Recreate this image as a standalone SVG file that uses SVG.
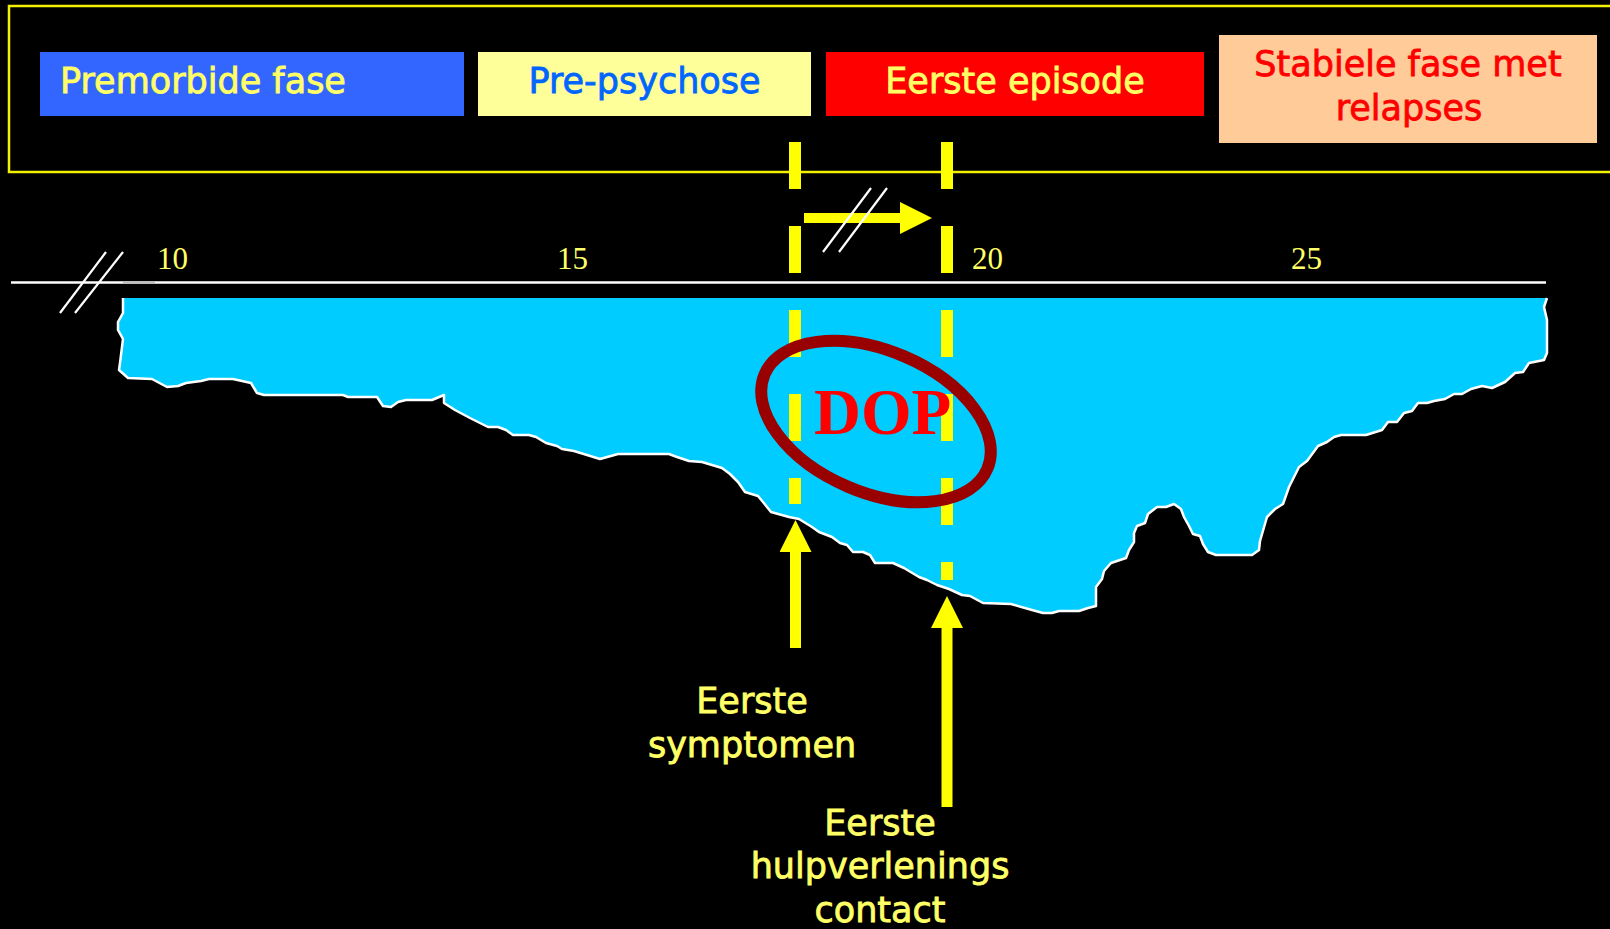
<svg xmlns="http://www.w3.org/2000/svg" width="1610" height="929" viewBox="0 0 1610 929">
  <style>
    .lbl { font-family: "DejaVu Sans", "Verdana", sans-serif; font-size: 35px; stroke-width: 0.8px; }
    .num { font-family: "Liberation Serif", "Times New Roman", serif; font-size: 31px; fill: #FFFF66; }
    .ylw { fill: #FFFF66; stroke: #FFFF66; }
    .blu { fill: #0066FF; stroke: #0066FF; }
    .red { fill: #FF0000; stroke: #FF0000; }
    .dash { stroke: #FFFF00; stroke-width: 12; stroke-dasharray: 47 37; fill: none; }
    .conn { stroke: #FFFF00; fill: none; }
    .slash { stroke: #FFFFFF; stroke-width: 2.2; fill: none; }
  </style>
  <defs>
    <marker id="head" viewBox="0 0 32 32" refX="0" refY="16" markerWidth="32" markerHeight="32" markerUnits="userSpaceOnUse" orient="auto">
      <path d="M0,0 L32,16 L0,32 Z" fill="#FFFF00"/>
    </marker>
  </defs>
  <rect x="0" y="0" width="1610" height="929" fill="#000000"/>

  <g id="header-frame">
    <rect x="9" y="6" width="1640" height="166" fill="none" stroke="#F2F200" stroke-width="2.5"/>
  </g>

  <g id="phase-premorbide">
    <rect x="40" y="52" width="424" height="64" fill="#3366FF"/>
    <text class="lbl ylw" x="60" y="93">Premorbide fase</text>
  </g>
  <g id="phase-prepsychose">
    <rect x="478" y="52" width="333" height="64" fill="#FFFF99"/>
    <text class="lbl blu" x="644.5" y="93" text-anchor="middle">Pre-psychose</text>
  </g>
  <g id="phase-eerste-episode">
    <rect x="826" y="52" width="378" height="64" fill="#FF0000"/>
    <text class="lbl ylw" x="1015" y="93" text-anchor="middle">Eerste episode</text>
  </g>
  <g id="phase-stabiele">
    <rect x="1219" y="35" width="378" height="108" fill="#FFCC99"/>
    <text class="lbl red" x="1408" y="76" text-anchor="middle">Stabiele fase met</text>
    <text class="lbl red" x="1409" y="120" text-anchor="middle">relapses</text>
  </g>

  <g id="timeline">
    <line x1="11" y1="282.5" x2="1546" y2="282.5" stroke="#FFFFFF" stroke-width="2.5"/>
    <line x1="123" y1="282.5" x2="155" y2="282.5" stroke="#BDBDBD" stroke-width="2.5"/>
    <line class="slash" x1="60" y1="313" x2="106" y2="252"/>
    <line class="slash" x1="75" y1="313" x2="123" y2="252"/>
    <text class="num" x="157" y="269">10</text>
    <text class="num" x="557" y="269">15</text>
    <text class="num" x="972" y="269">20</text>
    <text class="num" x="1291" y="269">25</text>
  </g>

  <g id="course">
    <path fill="#00CCFF" d="M123,298 L1547,298 L1544,307 L1547,320 L1547,353 L1544,360 L1529,363 L1523,372 L1515,373 L1505,382 L1492,388 L1482,386 L1471,389 L1462,394 L1454,394 L1445,399 L1434,401 L1427,403 L1418,403 L1412,411 L1404,413 L1397,422 L1388,422 L1382,430 L1366,435 L1341,435 L1334,437 L1327,442 L1318,446 L1307,461 L1299,467 L1289,487 L1283,504 L1275,509 L1267,517 L1260,541 L1259,550 L1252,555 L1216,555 L1208,552 L1203,544 L1200,536 L1193,534 L1189,526 L1184,517 L1181,509 L1174,504 L1166,507 L1157,507 L1148,514 L1145,523 L1137,526 L1134,533 L1134,542 L1129,550 L1126,558 L1111,563 L1104,571 L1102,579 L1096,587 L1096,606 L1088,608 L1079,611 L1059,611 L1052,613 L1043,613 L1032,610 L1011,604 L983,603 L970,596 L962,595 L949,589 L937,585 L927,580 L919,577 L904,568 L893,563 L875,563 L870,555 L863,552 L853,552 L847,545 L840,543 L832,537 L819,532 L812,527 L799,519 L789,517 L771,512 L763,502 L758,496 L745,492 L738,482 L730,474 L722,468 L702,462 L689,461 L677,457 L669,454 L618,454 L600,459 L587,455 L574,451 L562,449 L557,446 L546,443 L536,437 L529,435 L513,435 L506,430 L498,427 L488,427 L480,423 L470,418 L455,410 L444,403 L444,395 L432,400 L406,400 L398,402 L391,407 L383,406 L377,397 L348,397 L343,395 L264,395 L257,393 L251,383 L233,379 L209,379 L201,381 L186,383 L178,386 L167,387 L152,379 L128,378 L119,370 L120,363 L123,339 L118,330 L118,322 L123,313 Z"/>
    <path fill="none" stroke="#FFFFFF" stroke-width="2.5" stroke-linejoin="round" d="M1547,298 L1544,307 L1547,320 L1547,353 L1544,360 L1529,363 L1523,372 L1515,373 L1505,382 L1492,388 L1482,386 L1471,389 L1462,394 L1454,394 L1445,399 L1434,401 L1427,403 L1418,403 L1412,411 L1404,413 L1397,422 L1388,422 L1382,430 L1366,435 L1341,435 L1334,437 L1327,442 L1318,446 L1307,461 L1299,467 L1289,487 L1283,504 L1275,509 L1267,517 L1260,541 L1259,550 L1252,555 L1216,555 L1208,552 L1203,544 L1200,536 L1193,534 L1189,526 L1184,517 L1181,509 L1174,504 L1166,507 L1157,507 L1148,514 L1145,523 L1137,526 L1134,533 L1134,542 L1129,550 L1126,558 L1111,563 L1104,571 L1102,579 L1096,587 L1096,606 L1088,608 L1079,611 L1059,611 L1052,613 L1043,613 L1032,610 L1011,604 L983,603 L970,596 L962,595 L949,589 L937,585 L927,580 L919,577 L904,568 L893,563 L875,563 L870,555 L863,552 L853,552 L847,545 L840,543 L832,537 L819,532 L812,527 L799,519 L789,517 L771,512 L763,502 L758,496 L745,492 L738,482 L730,474 L722,468 L702,462 L689,461 L677,457 L669,454 L618,454 L600,459 L587,455 L574,451 L562,449 L557,446 L546,443 L536,437 L529,435 L513,435 L506,430 L498,427 L488,427 L480,423 L470,418 L455,410 L444,403 L444,395 L432,400 L406,400 L398,402 L391,407 L383,406 L377,397 L348,397 L343,395 L264,395 L257,393 L251,383 L233,379 L209,379 L201,381 L186,383 L178,386 L167,387 L152,379 L128,378 L119,370 L120,363 L123,339 L118,330 L118,322 L123,313 L123,298"/>
  </g>

  <g id="marker-lines">
    <line class="dash" x1="795" y1="142" x2="795" y2="504"/>
    <line class="dash" x1="947" y1="142" x2="947" y2="580"/>
  </g>

  <g id="dop">
    <ellipse cx="876" cy="421.5" rx="121" ry="71" transform="rotate(23 876 421.5)" fill="none" stroke="#990000" stroke-width="12"/>
    <text x="814" y="434" font-family="Liberation Serif, Times New Roman, serif" font-weight="bold" font-size="65" fill="#FF0000">DOP</text>
  </g>

  <g id="connectors">
    <line class="conn" x1="804" y1="218" x2="900" y2="218" stroke-width="10" marker-end="url(#head)"/>
    <line class="slash" x1="823" y1="252" x2="871" y2="188"/>
    <line class="slash" x1="839" y1="252" x2="887" y2="188"/>
    <line class="conn" x1="795.5" y1="648" x2="795.5" y2="552" stroke-width="11" marker-end="url(#head)"/>
    <line class="conn" x1="947" y1="807" x2="947" y2="628" stroke-width="11" marker-end="url(#head)"/>
  </g>

  <g id="label-symptomen">
    <text class="lbl ylw" x="752" y="713" text-anchor="middle">Eerste</text>
    <text class="lbl ylw" x="752" y="757" text-anchor="middle">symptomen</text>
  </g>
  <g id="label-hulpverlening">
    <text class="lbl ylw" x="880" y="835" text-anchor="middle">Eerste</text>
    <text class="lbl ylw" x="880" y="878" text-anchor="middle">hulpverlenings</text>
    <text class="lbl ylw" x="880" y="922" text-anchor="middle">contact</text>
  </g>
</svg>
